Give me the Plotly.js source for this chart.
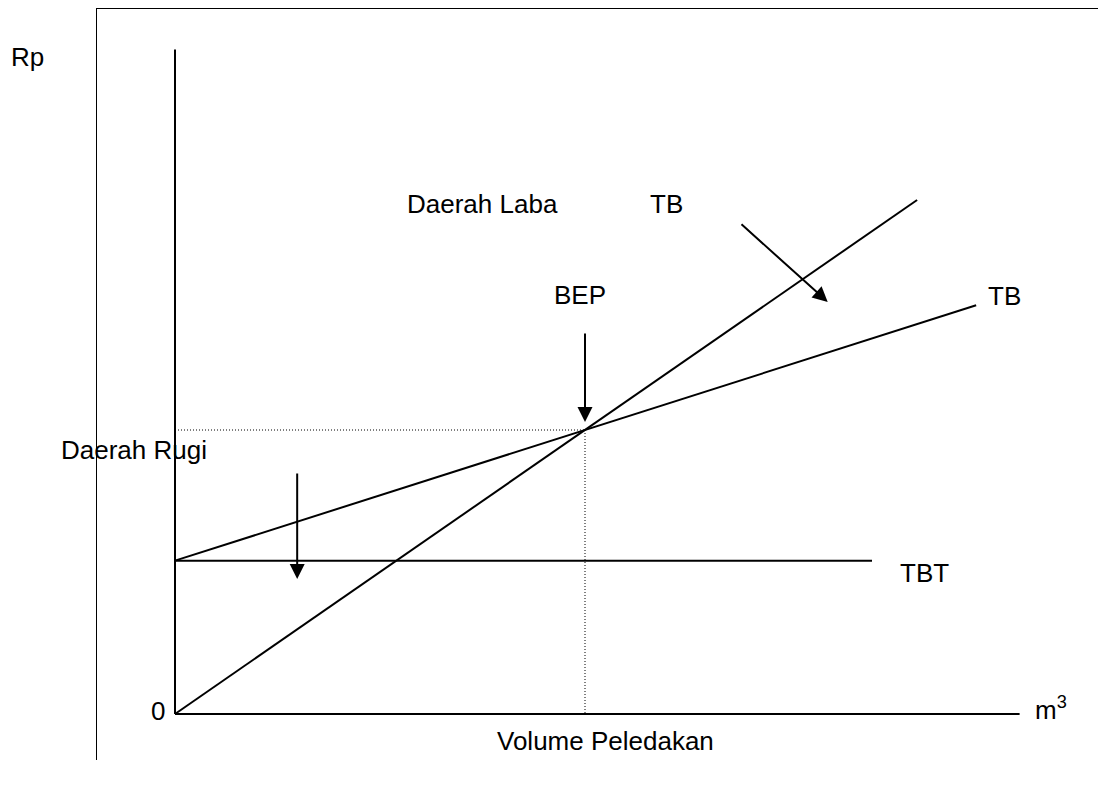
<!DOCTYPE html>
<html>
<head>
<meta charset="utf-8">
<script src="https://cdn.plot.ly/plotly-3.0.1.min.js"></script>
<style>html,body{margin:0;padding:0;background:#fff;}#chart{width:1098px;height:787px;}</style>
</head>
<body>
<div id="chart"></div>
<script>
// ---- data (volume units vs Rp units) ----
const revenueX = [0, 90.5];        // TB (penerimaan) line
const revenueY = [0, 181];
const costX = [0, 97.7];           // TB (biaya total) line
const costY = [54, 143.9];
const fixedX = [0, 85];            // TBT line
const fixedY = [54, 54];
const bepX = 50;                   // break-even volume
const bepY = 100;                  // break-even Rp
const axisXMax = 103;
const axisYMax = 234;

// ---- layout constants (pixel mapping) ----
const W = 1098, H = 787;
const ox = 175, oy = 714, sx = 8.2, sy = 2.84;
const xr = [-ox / sx, (W - ox) / sx];
const yr = [-(H - oy) / sy, oy / sy];
const P = (px, py) => ({x: px / W, y: 1 - py / H});
const FONT = {family: 'Liberation Sans, Arial, sans-serif', size: 26, color: '#000'};

const solid = (x, y, w) => ({x, y, type: 'scatter', mode: 'lines', line: {color: '#000', width: w}, hoverinfo: 'skip'});
const dotted = (x, y) => ({x, y, type: 'scatter', mode: 'lines', line: {color: '#000', width: 1, dash: '1px,2px'}, hoverinfo: 'skip'});

const traces = [
  solid([0, 0], [0, axisYMax], 2),
  solid([0, axisXMax], [0, 0], 2),
  dotted([0, bepX], [bepY, bepY]),
  dotted([bepX, bepX], [bepY, 0]),
  solid(fixedX, fixedY, 2),
  solid(costX, costY, 2),
  solid(revenueX, revenueY, 2)
];

function label(text, px, py, xanchor) {
  const p = P(px, py);
  return {xref: 'paper', yref: 'paper', x: p.x, y: p.y, text, showarrow: false,
          xanchor: xanchor || 'left', yanchor: 'middle', font: FONT};
}
function arrow(x, y, ax, ay) {
  return {xref: 'x', yref: 'y', axref: 'x', ayref: 'y', x, y, ax, ay, text: '',
          showarrow: true, arrowhead: 2, arrowsize: 1.5, arrowwidth: 2, arrowcolor: '#000', standoff: 0};
}

const annotations = [
  label('Rp', 9, 57),
  label('Daerah Laba', 405, 204),
  label('TB', 648, 204),
  label('BEP', 552, 295),
  label('TB', 986, 296),
  label('Daerah Rugi', 59, 450),
  label('TBT', 898, 573),
  label('0', 149, 711),
  label('m<sup>3</sup>', 1033, 708),
  label('Volume Peledakan', 606, 741, 'center'),
  arrow(bepX, 102.8, bepX, 134.5),
  arrow(14.9, 47.5, 14.9, 85.2),
  arrow(79.6, 145.1, 68.9, 172.9)
];

const shapes = [
  {type: 'line', xref: 'paper', yref: 'paper', x0: 96.5 / W, x1: 96.5 / W, y0: 1 - 8 / H, y1: 1 - 760 / H, line: {color: '#000', width: 1}},
  {type: 'line', xref: 'paper', yref: 'paper', x0: 96 / W, x1: 1, y0: 1 - 8.5 / H, y1: 1 - 8.5 / H, line: {color: '#000', width: 1}}
];

const layout = {
  width: W, height: H,
  margin: {l: 0, r: 0, t: 0, b: 0},
  paper_bgcolor: '#fff', plot_bgcolor: '#fff',
  showlegend: false,
  hovermode: false,
  xaxis: {range: xr, visible: false, fixedrange: true},
  yaxis: {range: yr, visible: false, fixedrange: true},
  font: FONT,
  annotations, shapes
};

Plotly.newPlot('chart', traces, layout, {displayModeBar: false, staticPlot: true});
</script>
</body>
</html>
